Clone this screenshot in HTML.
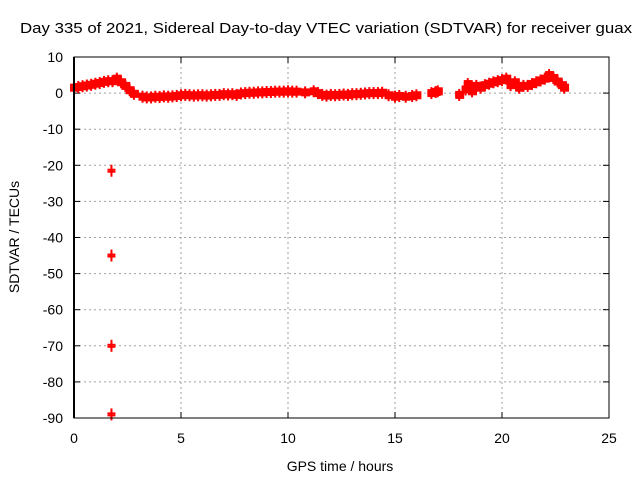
<!DOCTYPE html>
<html><head><meta charset="utf-8"><style>
body{margin:0;background:#fff}
svg{display:block;font-family:"Liberation Sans",sans-serif}
</style></head><body>
<svg id="chart" width="640" height="480">
<text x="20" y="33" font-size="15" textLength="612" lengthAdjust="spacingAndGlyphs">Day 335 of 2021, Sidereal Day-to-day VTEC variation (SDTVAR) for receiver guax</text>
<text x="340" y="471" font-size="14" text-anchor="middle">GPS time / hours</text>
<text transform="translate(19,237) rotate(-90)" font-size="14" text-anchor="middle">SDTVAR / TECUs</text>
<g id="grid"></g><g id="marks"></g>
<rect x="74" y="57" width="535" height="361" fill="none" stroke="#000" stroke-width="1"/>
<line x1="74" y1="57" x2="74" y2="418" stroke="#000" stroke-width="2"/>
</svg>
<script>
const xTicks=[0,5,10,15,20,25];
const yTicks=[10,0,-10,-20,-30,-40,-50,-60,-70,-80,-90];
const times=[0.0,0.2,0.4,0.6,0.8,1.0,1.2,1.4,1.6,1.8,2.0,2.2,2.4,2.6,2.8,3.2,3.4,3.6,3.8,4.0,4.2,4.4,4.6,4.8,5.0,5.2,5.4,5.6,5.8,6.0,6.2,6.4,6.6,6.8,7.0,7.2,7.4,7.6,7.8,8.0,8.2,8.4,8.6,8.8,9.0,9.2,9.4,9.6,9.8,10.0,10.2,10.4,10.8,11.2,11.4,11.6,11.8,12.0,12.2,12.4,12.6,12.8,13.0,13.2,13.4,13.6,13.8,14.0,14.2,14.4,14.7,15.0,15.2,15.5,15.8,16.0,16.7,16.9,17.0,18.0,18.3,18.4,18.6,18.8,19.0,19.2,19.4,19.6,19.8,20.0,20.2,20.4,20.6,20.8,21.0,21.2,21.4,21.6,21.8,22.0,22.2,22.4,22.6,22.8,22.9];
const values=[1.5,1.7,1.9,2.1,2.3,2.6,2.8,3.1,3.3,3.3,4.0,3.0,2.0,0.8,-0.2,-1.0,-1.2,-1.2,-1.0,-1.1,-0.9,-1.0,-0.9,-0.8,-0.6,-0.5,-0.6,-0.7,-0.6,-0.6,-0.7,-0.6,-0.5,-0.5,-0.3,-0.4,-0.3,-0.5,-0.1,0.0,0.1,0.1,0.2,0.2,0.3,0.3,0.4,0.4,0.4,0.5,0.4,0.4,0.2,0.5,0.0,-0.5,-0.7,-0.5,-0.6,-0.5,-0.4,-0.5,-0.3,-0.3,-0.2,-0.1,0.0,0.0,0.0,0.1,-0.6,-1.0,-0.8,-1.0,-0.8,-0.6,0.0,0.3,0.5,-0.5,1.0,2.5,0.5,2.0,1.5,2.2,2.6,3.0,3.3,3.6,4.0,2.2,3.0,1.5,2.0,2.0,2.5,3.0,3.5,4.0,5.0,4.2,3.2,2.2,1.5];
const outlierTimes=[1.75,1.75,1.75,1.75];
const outlierValues=[-21.5,-45,-70,-89];
const X=t=>74+t*(535/25);
const Y=v=>57+(10-v)*(361/100);
const NS="http://www.w3.org/2000/svg";
const grid=document.getElementById('grid'),marks=document.getElementById('marks');
function mk(tag,attrs,parent){const e=document.createElementNS(NS,tag);for(const k in attrs)e.setAttribute(k,attrs[k]);parent.appendChild(e);return e;}
xTicks.forEach(t=>{
 if(t>0&&t<25){const g=mk('line',{x1:X(t),x2:X(t),y1:57,y2:418,stroke:'#a0a0a0','stroke-dasharray':'2,3'},grid);
 
 }
 mk('line',{x1:X(t),x2:X(t),y1:418,y2:412,stroke:'#000'},grid);
 mk('line',{x1:X(t),x2:X(t),y1:57,y2:63,stroke:'#000'},grid);
 const l=mk('text',{x:X(t),y:443,'font-size':14,'text-anchor':'middle'},grid);l.textContent=t;
 
 
});
yTicks.forEach(v=>{
 if(v<10&&v>-90){const g=mk('line',{x1:74,x2:609,y1:Y(v),y2:Y(v),stroke:'#a0a0a0','stroke-dasharray':'2,3'},grid);
 
 }
 mk('line',{x1:74,x2:80,y1:Y(v),y2:Y(v),stroke:'#000'},grid);
 mk('line',{x1:603,x2:609,y1:Y(v),y2:Y(v),stroke:'#000'},grid);
 const l=mk('text',{x:63,y:Y(v)+5,'font-size':14,'text-anchor':'end'},grid);l.textContent=v;
 
 
});
function plus(t,v,thick){
 const x=X(t),y=Y(v);
 const g=mk('g',{},marks);
 
 
 if(thick) mk('rect',{x:x-4,y:y-4,width:9,height:8,fill:'#f00'},g);
 [-1,1].forEach(d=>{
  mk('line',{x1:x-4,x2:x+4,y1:y+d,y2:y+d,stroke:'#f00','stroke-width':2},g);
  mk('line',{x1:x,x2:x,y1:y+d-5,y2:y+d+5,stroke:'#f00','stroke-width':2},g);
 });
}
times.forEach((t,i)=>plus(t,values[i],true));
outlierTimes.forEach((t,i)=>plus(t,outlierValues[i],false));
</script>
</body></html>
